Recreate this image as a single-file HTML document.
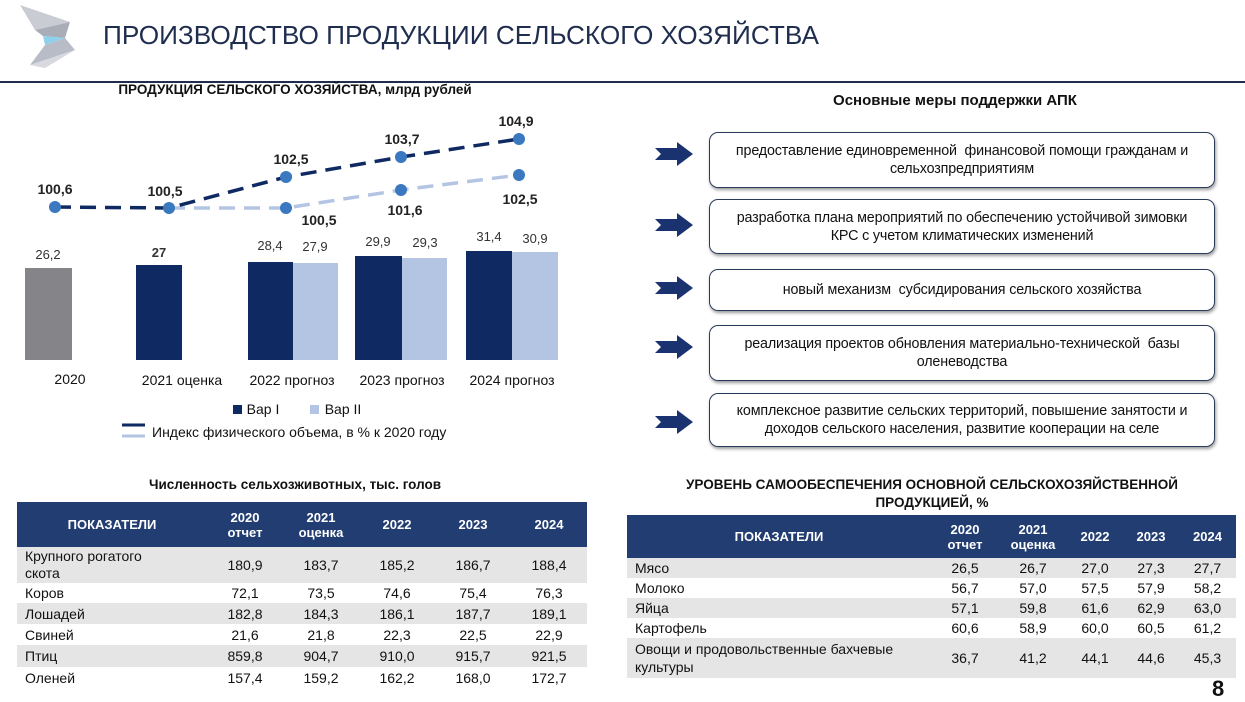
<!DOCTYPE html>
<html><head><meta charset="utf-8"><style>
*{margin:0;padding:0;box-sizing:border-box}
body{width:1245px;height:694px;background:#fff;position:relative;overflow:hidden;font-family:"Liberation Sans",Arial,sans-serif;color:#111}
.a{position:absolute}
table{border-collapse:collapse;position:absolute;font-size:14px;table-layout:fixed}
th{background:#213d72;color:#fff;font-weight:bold;font-size:13px;line-height:15px}
td{text-align:center;padding:0}
td:first-child{text-align:left;padding-left:8px}
tr.g td{background:#e5e5e5}
.box{position:absolute;left:709px;width:506px;border:1.5px solid #2a3a5a;border-radius:9px;box-shadow:1px 2px 3px #999;display:flex;align-items:center;justify-content:center;text-align:center;font-size:14.3px;line-height:18px;padding:0 4px;white-space:nowrap;letter-spacing:-0.15px}
.arr{position:absolute;left:655px;width:38px;height:24px}
</style></head><body>
<svg class="a" style="left:15px;top:0" width="75" height="70" viewBox="0 0 75 70">
<polygon points="5,5 55,22 20,30" fill="#c9ccd3"/>
<polygon points="20,30 55,22 50,38 28,36" fill="#a8adb8"/>
<polygon points="28,36 50,38 30,45" fill="#8fd0ec"/>
<polygon points="30,45 50,38 60,50 15,65" fill="#b7bcc6"/>
<polygon points="15,65 60,50 30,68" fill="#d7d9de"/>
</svg>
<div class="a" style="left:103px;top:20px;font-size:26.2px;color:#1f2d4e">ПРОИЗВОДСТВО ПРОДУКЦИИ СЕЛЬСКОГО ХОЗЯЙСТВА</div>
<div class="a" style="left:0;top:81px;width:1245px;height:2px;background:#1f2d4e"></div>

<div class="a" style="left:0;top:82px;width:590px;text-align:center;font-weight:bold;font-size:13.5px">ПРОДУКЦИЯ СЕЛЬСКОГО ХОЗЯЙСТВА, млрд рублей</div>
<svg class="a" style="left:0;top:100px" width="600" height="350">
<g font-size="13" fill="#333" text-anchor="middle">
<rect x="25" y="168" width="47" height="92" fill="#858589"/>
<rect x="136" y="165" width="46" height="95" fill="#0f2a63"/>
<rect x="248" y="162" width="45" height="98" fill="#0f2a63"/>
<rect x="293" y="163" width="45" height="97" fill="#b4c5e4"/>
<rect x="355" y="156" width="47" height="104" fill="#0f2a63"/>
<rect x="402" y="158" width="45" height="102" fill="#b4c5e4"/>
<rect x="466" y="151" width="46" height="109" fill="#0f2a63"/>
<rect x="512" y="152" width="46" height="108" fill="#b4c5e4"/>
<text x="48" y="159">26,2</text><text x="159" y="157" font-weight="bold">27</text>
<text x="270" y="150">28,4</text><text x="315" y="151">27,9</text>
<text x="378" y="146">29,9</text><text x="425" y="147">29,3</text>
<text x="489" y="141">31,4</text><text x="535" y="143">30,9</text>
<g font-size="14" fill="#111">
<text x="70" y="284">2020</text><text x="182" y="285">2021 оценка</text><text x="292" y="285">2022 прогноз</text><text x="402" y="285">2023 прогноз</text><text x="512" y="285">2024 прогноз</text>
</g>
<polyline points="169,108 286,108 401,90 519,75" fill="none" stroke="#b4c5e4" stroke-width="3.5" stroke-dasharray="16,9"/>
<polyline points="55,107 169,108 286,77 401,57 519,39" fill="none" stroke="#0f2a63" stroke-width="3.5" stroke-dasharray="16,9"/>
<g fill="#3a78c0"><circle cx="55" cy="107" r="6"/><circle cx="169" cy="108" r="6"/><circle cx="286" cy="77" r="6"/><circle cx="401" cy="57" r="6"/><circle cx="519" cy="39" r="6"/><circle cx="286" cy="108" r="6"/><circle cx="401" cy="90" r="6"/><circle cx="519" cy="75" r="6"/></g>
<g font-weight="bold" font-size="14" fill="#222">
<text x="55" y="94">100,6</text><text x="165" y="96">100,5</text><text x="291" y="64">102,5</text><text x="402" y="44">103,7</text><text x="516" y="26">104,9</text>
<text x="319" y="125">100,5</text><text x="405" y="115">101,6</text><text x="520" y="104">102,5</text>
</g>
<rect x="233" y="305" width="9" height="9" fill="#0f2a63"/><text x="263" y="314" fill="#111" font-size="14">Вар I</text>
<rect x="310" y="305" width="9" height="9" fill="#b4c5e4"/><text x="343" y="314" fill="#111" font-size="14">Вар II</text>
<line x1="122" y1="325" x2="145" y2="325" stroke="#0f2a63" stroke-width="3"/>
<line x1="122" y1="336" x2="145" y2="336" stroke="#b4c5e4" stroke-width="3"/>
<text x="152" y="337" fill="#111" font-size="14" text-anchor="start">Индекс физического объема, в % к 2020 году</text>
</g></svg>

<div class="a" style="left:0;top:477px;width:590px;text-align:center;font-weight:bold;font-size:13.5px">Численность сельхозживотных, тыс. голов</div>
<table style="left:17px;top:502px;width:570px">
<colgroup><col style="width:190px"><col style="width:76px"><col style="width:76px"><col style="width:76px"><col style="width:76px"><col style="width:76px"></colgroup>
<tr style="height:45px"><th>ПОКАЗАТЕЛИ</th><th>2020<br>отчет</th><th>2021<br>оценка</th><th>2022</th><th>2023</th><th>2024</th></tr>
<tr class="g" style="height:36px"><td style="line-height:17px">Крупного рогатого<br>скота</td><td>180,9</td><td>183,7</td><td>185,2</td><td>186,7</td><td>188,4</td></tr>
<tr style="height:20px"><td>Коров</td><td>72,1</td><td>73,5</td><td>74,6</td><td>75,4</td><td>76,3</td></tr>
<tr class="g" style="height:21px"><td>Лошадей</td><td>182,8</td><td>184,3</td><td>186,1</td><td>187,7</td><td>189,1</td></tr>
<tr style="height:21px"><td>Свиней</td><td>21,6</td><td>21,8</td><td>22,3</td><td>22,5</td><td>22,9</td></tr>
<tr class="g" style="height:22px"><td>Птиц</td><td>859,8</td><td>904,7</td><td>910,0</td><td>915,7</td><td>921,5</td></tr>
<tr style="height:22px"><td>Оленей</td><td>157,4</td><td>159,2</td><td>162,2</td><td>168,0</td><td>172,7</td></tr>
</table>

<div class="a" style="left:700px;top:92px;width:510px;text-align:center;font-weight:bold;font-size:15px">Основные меры поддержки АПК</div>
<svg class="arr" style="top:142px" viewBox="0 0 38 24"><polygon points="0,6 22,6 22,0 38,12 22,24 22,18 0,18 6,12" fill="#1a3370"/></svg>
<svg class="arr" style="top:213px" viewBox="0 0 38 24"><polygon points="0,6 22,6 22,0 38,12 22,24 22,18 0,18 6,12" fill="#1a3370"/></svg>
<svg class="arr" style="top:276px" viewBox="0 0 38 24"><polygon points="0,6 22,6 22,0 38,12 22,24 22,18 0,18 6,12" fill="#1a3370"/></svg>
<svg class="arr" style="top:335px" viewBox="0 0 38 24"><polygon points="0,6 22,6 22,0 38,12 22,24 22,18 0,18 6,12" fill="#1a3370"/></svg>
<svg class="arr" style="top:410px" viewBox="0 0 38 24"><polygon points="0,6 22,6 22,0 38,12 22,24 22,18 0,18 6,12" fill="#1a3370"/></svg>
<div class="box" style="top:132px;height:56px">предоставление единовременной&nbsp; финансовой помощи гражданам и<br>сельхозпредприятиям</div>
<div class="box" style="top:199px;height:55px">разработка плана мероприятий по обеспечению устойчивой зимовки<br>КРС с учетом климатических изменений</div>
<div class="box" style="top:269px;height:42px">новый механизм&nbsp; субсидирования сельского хозяйства</div>
<div class="box" style="top:325px;height:56px">реализация проектов обновления материально-технической&nbsp; базы<br>оленеводства</div>
<div class="box" style="top:393px;height:54px">комплексное развитие сельских территорий, повышение занятости и<br>доходов сельского населения, развитие кооперации на селе</div>

<div class="a" style="left:627px;top:476px;width:610px;text-align:center;font-weight:bold;font-size:13.5px;line-height:18px">УРОВЕНЬ САМООБЕСПЕЧЕНИЯ ОСНОВНОЙ СЕЛЬСКОХОЗЯЙСТВЕННОЙ<br>ПРОДУКЦИЕЙ, %</div>
<table style="left:627px;top:515px;width:609px">
<colgroup><col style="width:304px"><col style="width:68px"><col style="width:68px"><col style="width:56px"><col style="width:56px"><col style="width:57px"></colgroup>
<tr style="height:43px"><th>ПОКАЗАТЕЛИ</th><th>2020<br>отчет</th><th>2021<br>оценка</th><th>2022</th><th>2023</th><th>2024</th></tr>
<tr class="g" style="height:20px"><td>Мясо</td><td>26,5</td><td>26,7</td><td>27,0</td><td>27,3</td><td>27,7</td></tr>
<tr style="height:20px"><td>Молоко</td><td>56,7</td><td>57,0</td><td>57,5</td><td>57,9</td><td>58,2</td></tr>
<tr class="g" style="height:20px"><td>Яйца</td><td>57,1</td><td>59,8</td><td>61,6</td><td>62,9</td><td>63,0</td></tr>
<tr style="height:20px"><td>Картофель</td><td>60,6</td><td>58,9</td><td>60,0</td><td>60,5</td><td>61,2</td></tr>
<tr class="g" style="height:40px"><td style="line-height:18px">Овощи и продовольственные бахчевые<br>культуры</td><td>36,7</td><td>41,2</td><td>44,1</td><td>44,6</td><td>45,3</td></tr>
</table>
<div class="a" style="left:1212px;top:676px;font-size:22px;font-weight:bold">8</div>
</body></html>
